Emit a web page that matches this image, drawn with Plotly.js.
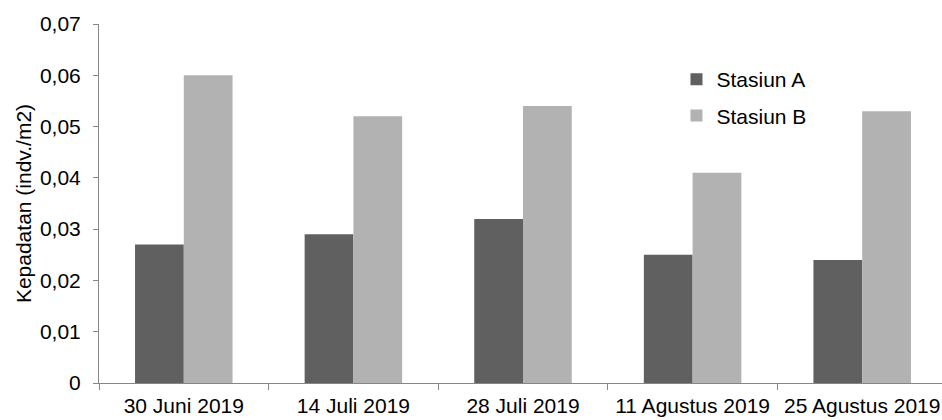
<!DOCTYPE html>
<html>
<head>
<meta charset="utf-8">
<script src="https://cdn.plot.ly/plotly-3.0.1.min.js"></script>
<style>
  html, body { margin: 0; padding: 0; overflow: hidden; background: #fff; }
  #chart { width: 947px; height: 420px; }
</style>
</head>
<body>
<div id="chart"></div>
<script>
// Sampling dates and population density per station
const dates = ["30 Juni 2019", "14 Juli 2019", "28 Juli 2019", "11 Agustus 2019", "25 Agustus 2019"];
const stasiunA = [0.027, 0.029, 0.032, 0.025, 0.024];
const stasiunB = [0.060, 0.052, 0.054, 0.041, 0.053];
const yTicks = [0, 0.01, 0.02, 0.03, 0.04, 0.05, 0.06, 0.07];
const yTickText = ["0", "0,01", "0,02", "0,03", "0,04", "0,05", "0,06", "0,07"];

const FONT = "Liberation Sans, Arial, sans-serif";
const AXIS = "#868686";

const traces = [
  { type: "bar", name: "Stasiun A", legendgroup: "a", x: dates, y: stasiunA,
    marker: { color: "#606060", line: { width: 0 } } },
  { type: "bar", name: "Stasiun B", legendgroup: "b", x: dates, y: stasiunB,
    marker: { color: "#b2b2b2", line: { width: 0 } } }
];

const layout = {
  width: 947, height: 420,
  margin: { l: 99, r: 0, t: 24, b: 37 },
  paper_bgcolor: "#fff", plot_bgcolor: "#fff",
  font: { family: FONT, size: 21, color: "#000" },
  barmode: "group", bargap: 0.425, bargroupgap: 0,
  showlegend: true,
  legend: { x: 0.681, y: 0.9025, xanchor: "left", yanchor: "top",
            traceorder: "grouped", tracegroupgap: 6,
            font: { family: FONT, size: 21, color: "#000" },
            bgcolor: "rgba(0,0,0,0)" },
  xaxis: {
    type: "category", range: [-0.5, 4.5],
    showline: true, linecolor: AXIS, linewidth: 1,
    ticks: "outside", tickson: "boundaries", ticklen: 6, tickcolor: AXIS,
    ticklabelstandoff: 4,
    showgrid: false, zeroline: false,
    tickfont: { family: FONT, size: 21, color: "#000" }
  },
  yaxis: {
    range: [0, 0.07], tickvals: yTicks, ticktext: yTickText,
    showline: true, linecolor: AXIS, linewidth: 1,
    ticks: "outside", ticklen: 5, tickcolor: AXIS,
    ticklabelstandoff: 8,
    showgrid: false, zeroline: false,
    tickfont: { family: FONT, size: 21, color: "#000" },
    title: { text: "Kepadatan (indv./m2)", standoff: 2,
             font: { family: FONT, size: 21, color: "#000" } }
  }
};

Plotly.newPlot("chart", traces, layout, { staticPlot: true, displayModeBar: false });
</script>
</body>
</html>
